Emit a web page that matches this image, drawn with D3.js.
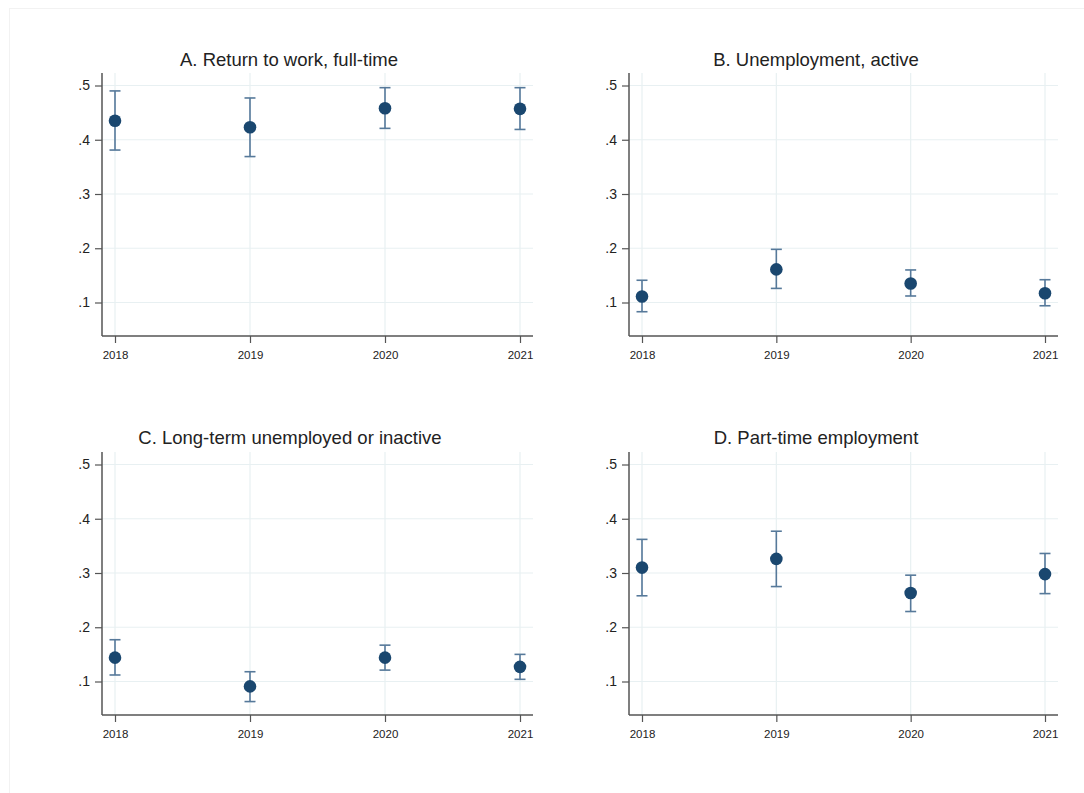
<!DOCTYPE html>
<html>
<head>
<meta charset="utf-8">
<script src="https://cdn.jsdelivr.net/npm/d3@7"></script>
<style>
  html, body { margin: 0; padding: 0; background: #fff; }
  svg { display: block; }
  text { font-family: "Liberation Sans", Arial, sans-serif; }
</style>
</head>
<body>
<svg id="chart" width="1084" height="793"></svg>
<script>
// Years on the x axis
const years = [2018, 2019, 2020, 2021];
// Y axis ticks
const yTicks = [0.1, 0.2, 0.3, 0.4, 0.5];
const yTickLabels = [".1", ".2", ".3", ".4", ".5"];

// Panel titles
const titles = [
  "A. Return to work, full-time",
  "B. Unemployment, active",
  "C. Long-term unemployed or inactive",
  "D. Part-time employment"
];

// Point estimates per panel
const estA = [0.435, 0.423, 0.458, 0.457];
const estB = [0.111, 0.161, 0.135, 0.117];
const estC = [0.144, 0.091, 0.144, 0.127];
const estD = [0.310, 0.326, 0.263, 0.298];

// Lower confidence bounds
const loA = [0.381, 0.369, 0.421, 0.419];
const loB = [0.083, 0.126, 0.112, 0.094];
const loC = [0.112, 0.063, 0.121, 0.104];
const loD = [0.258, 0.275, 0.229, 0.262];

// Upper confidence bounds
const hiA = [0.490, 0.477, 0.496, 0.496];
const hiB = [0.141, 0.198, 0.160, 0.142];
const hiC = [0.177, 0.118, 0.167, 0.150];
const hiD = [0.362, 0.377, 0.296, 0.336];

const panels = [
  { title: titles[0], est: estA, lo: loA, hi: hiA },
  { title: titles[1], est: estB, lo: loB, hi: hiB },
  { title: titles[2], est: estC, lo: loC, hi: hiC },
  { title: titles[3], est: estD, lo: loD, hi: hiD }
];

// Layout of each plot area (axis line positions)
const boxes = [
  { left: 102, right: 533, top: 73, bottom: 336, titleX: 289, titleY: 66 },
  { left: 629, right: 1058, top: 73, bottom: 336, titleX: 816, titleY: 66 },
  { left: 102, right: 533, top: 452, bottom: 715, titleX: 290, titleY: 444 },
  { left: 629, right: 1058, top: 452, bottom: 715, titleX: 816, titleY: 444 }
];

const svg = d3.select("#chart");

// faint outer frame of the graph region
svg.append("rect")
  .attr("x", 9.5).attr("y", 8.5)
  .attr("width", 1084).attr("height", 800)
  .attr("fill", "#fff")
  .attr("stroke", "#f2f2f2");

const markerColor = "#1a476f";
const ciColor = "#56799a";
const gridColor = "#e8f0f2";
const axisColor = "#555";
const textColor = "#222";

panels.forEach((p, i) => {
  const b = boxes[i];
  const g = svg.append("g");

  const x = d3.scalePoint()
    .domain(years)
    .range([b.left + 13, b.right - 13]);

  // .5 sits 12.5px below the top of the axis, .1 sits 33.5px above the x axis
  const y = d3.scaleLinear()
    .domain([0.1, 0.5])
    .range([b.bottom - 33.5, b.top + 12.5]);

  // horizontal grid
  g.append("g")
    .selectAll("line")
    .data(yTicks)
    .join("line")
    .attr("x1", b.left).attr("x2", b.right)
    .attr("y1", d => y(d)).attr("y2", d => y(d))
    .attr("stroke", gridColor).attr("stroke-width", 1.2);

  // vertical grid
  g.append("g")
    .selectAll("line")
    .data(years)
    .join("line")
    .attr("x1", d => x(d)).attr("x2", d => x(d))
    .attr("y1", b.top).attr("y2", b.bottom)
    .attr("stroke", gridColor).attr("stroke-width", 1.2);

  // y axis
  const yAxis = d3.axisLeft(y)
    .tickValues(yTicks)
    .tickFormat((d, k) => yTickLabels[k])
    .tickSize(7)
    .tickPadding(5);
  const ya = g.append("g")
    .attr("transform", `translate(${b.left},0)`)
    .call(yAxis);
  ya.select(".domain").remove();
  ya.append("line")
    .attr("x1", 0).attr("x2", 0)
    .attr("y1", b.top).attr("y2", b.bottom)
    .attr("stroke", axisColor).attr("stroke-width", 1.5);
  ya.selectAll(".tick line").attr("stroke", axisColor).attr("stroke-width", 1.2);
  ya.selectAll(".tick text")
    .attr("fill", textColor)
    .style("font-size", "14px");

  // x axis
  const xAxis = d3.axisBottom(x)
    .tickSize(7)
    .tickPadding(8);
  const xa = g.append("g")
    .attr("transform", `translate(0,${b.bottom})`)
    .call(xAxis);
  xa.select(".domain").remove();
  xa.append("line")
    .attr("x1", b.left).attr("x2", b.right)
    .attr("y1", 0).attr("y2", 0)
    .attr("stroke", axisColor).attr("stroke-width", 1.5);
  xa.selectAll(".tick line").attr("stroke", axisColor).attr("stroke-width", 1.2);
  xa.selectAll(".tick text")
    .attr("fill", textColor)
    .style("font-size", "11.5px");

  // title
  g.append("text")
    .attr("x", b.titleX).attr("y", b.titleY)
    .attr("text-anchor", "middle")
    .attr("fill", "#222")
    .style("font-size", "18.5px")
    .text(p.title);

  const rows = years.map((yr, k) => ({ yr, est: p.est[k], lo: p.lo[k], hi: p.hi[k] }));

  // confidence intervals
  const ci = g.append("g").attr("stroke", ciColor).attr("stroke-width", 1.6);
  ci.selectAll("line.v").data(rows).join("line").attr("class", "v")
    .attr("x1", d => x(d.yr)).attr("x2", d => x(d.yr))
    .attr("y1", d => y(d.lo)).attr("y2", d => y(d.hi));
  ci.selectAll("line.capHi").data(rows).join("line").attr("class", "capHi")
    .attr("x1", d => x(d.yr) - 5.5).attr("x2", d => x(d.yr) + 5.5)
    .attr("y1", d => y(d.hi)).attr("y2", d => y(d.hi));
  ci.selectAll("line.capLo").data(rows).join("line").attr("class", "capLo")
    .attr("x1", d => x(d.yr) - 5.5).attr("x2", d => x(d.yr) + 5.5)
    .attr("y1", d => y(d.lo)).attr("y2", d => y(d.lo));

  // point estimates
  g.append("g").selectAll("circle").data(rows).join("circle")
    .attr("cx", d => x(d.yr)).attr("cy", d => y(d.est))
    .attr("r", 6.3)
    .attr("fill", markerColor);
});
</script>
</body>
</html>
